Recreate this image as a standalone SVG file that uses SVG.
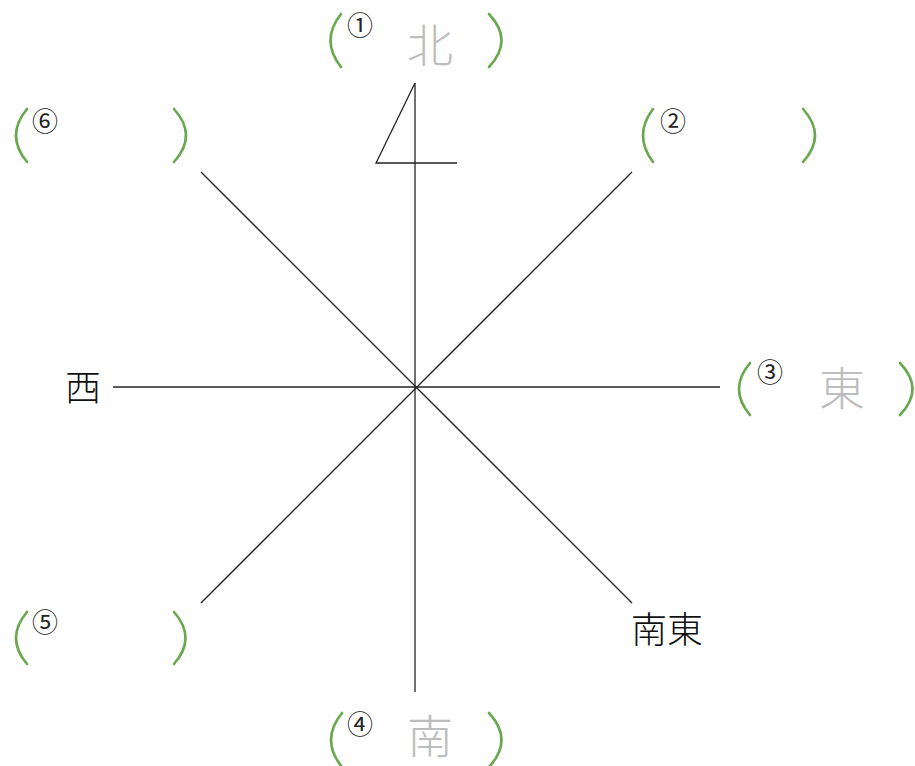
<svg xmlns="http://www.w3.org/2000/svg" width="915" height="766" viewBox="0 0 915 766">
<style>
.ln{stroke:#222;stroke-width:1.3;fill:none}
.par{stroke:#6aa84f;stroke-width:2.6;fill:none;stroke-linecap:round}
.num{font-family:"Noto Sans CJK JP","DejaVu Sans",sans-serif;font-size:26px;fill:#222;text-anchor:middle}
.ans{font-family:"Noto Sans CJK JP",sans-serif;font-weight:300;font-size:46px;fill:#bdbdbd;text-anchor:middle}
.lbl{font-family:"Noto Sans CJK JP",sans-serif;font-weight:300;font-size:36px;fill:#111}
</style>
<rect width="915" height="766" fill="#fff"/>
<g id="connectors">
<line class="ln" x1="415" y1="83" x2="415" y2="692"/>
<line class="ln" x1="113" y1="387" x2="720" y2="387"/>
<line class="ln" x1="201" y1="172" x2="632" y2="603"/>
<line class="ln" x1="632" y1="172" x2="201" y2="603"/>
<polyline class="ln" points="415,83 376,163 457,163"/>
</g>
<g id="n1">
<path class="par" d="M341 14 Q320 40.5 341 67"/>
<path class="par" d="M489 14 Q514 40.5 489 67"/>
<text class="num" x="360" y="35">①</text>
<text class="ans" x="430" y="62">北</text>
</g>
<g id="n2">
<path class="par" d="M653 109 Q633 135.5 653 162"/>
<path class="par" d="M803 109 Q827 135.5 803 162"/>
<text class="num" x="673" y="131">②</text>
</g>
<g id="n3">
<path class="par" d="M750 363 Q728 389 750 415"/>
<path class="par" d="M900 363 Q925 389 900 415"/>
<text class="num" x="770" y="382">③</text>
<text class="ans" x="842" y="405">東</text>
</g>
<g id="n4">
<path class="par" d="M342 713 Q320 740 342 767"/>
<path class="par" d="M489 713 Q514 740 489 767"/>
<text class="num" x="360" y="734">④</text>
<text class="ans" x="430" y="753">南</text>
</g>
<g id="n5">
<path class="par" d="M27 612 Q5 638 27 664"/>
<path class="par" d="M174 612 Q197 638 174 664"/>
<text class="num" x="45" y="632">⑤</text>
</g>
<g id="n6">
<path class="par" d="M27 109 Q5 135.5 27 162"/>
<path class="par" d="M174 109 Q198 135.5 174 162"/>
<text class="num" x="45" y="131">⑥</text>
</g>
<g id="west">
<text class="lbl" x="65" y="401" font-size="34">西</text>
</g>
<g id="southeast">
<text class="lbl" x="631" y="643">南東</text>
</g>
</svg>
